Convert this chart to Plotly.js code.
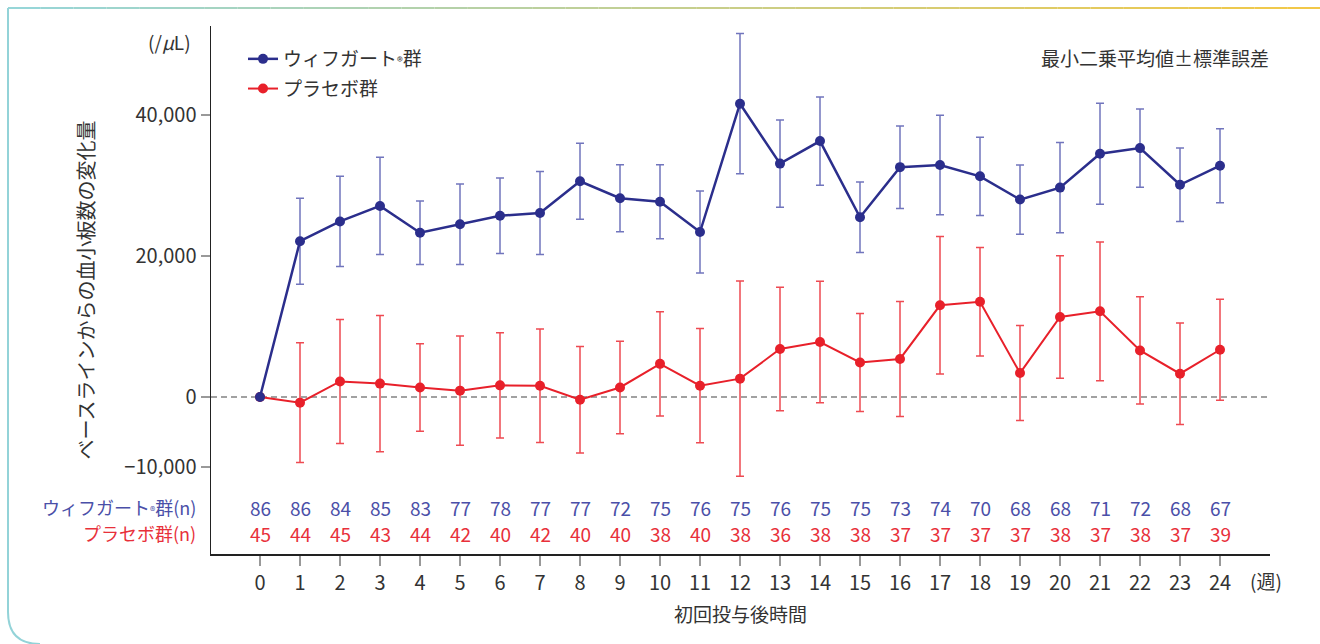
<!DOCTYPE html>
<html><head><meta charset="utf-8">
<script src="https://cdn.plot.ly/plotly-3.0.1.min.js"></script>
<style>html,body{margin:0;padding:0;background:#fff}#chart{width:1320px;height:644px}</style>
</head><body><div id="chart"></div>
<script>
// ---- data ----
const weeks = [0,1,2,3,4,5,6,7,8,9,10,11,12,13,14,15,16,17,18,19,20,21,22,23,24];
const vifMean = [0,22100,24900,27100,23300,24500,25700,26100,30600,28200,27700,23400,41600,33100,36300,25500,32600,32900,31300,28000,29700,34500,35300,30100,32800];
const vifSE   = [0,6100,6400,6900,4500,5700,5350,5900,5400,4750,5250,5800,9950,6200,6250,5000,5850,7050,5550,4900,6400,7150,5550,5200,5250];
const plaMean = [0,-800,2200,1900,1350,900,1650,1600,-400,1350,4700,1600,2600,6800,7800,4900,5400,13000,13500,3400,11350,12150,6600,3300,6700];
const plaSE   = [0,8500,8800,9650,6200,7750,7450,8050,7550,6550,7400,8100,13850,8750,8600,6950,8150,9750,7700,6750,8700,9850,7600,7200,7150];
const vifN = [86,86,84,85,83,77,78,77,77,72,75,76,75,76,75,75,73,74,70,68,68,71,72,68,67];
const plaN = [45,44,45,43,44,42,40,42,40,40,38,40,38,36,38,38,37,37,37,37,38,37,38,37,39];
const yTickVals = [-10000,0,20000,40000];
const yTickText = ['−10,000','0','20,000','40,000'];
const vifName = 'ウィフガート<span style="font-size:12px">®</span>群';
const plaName = 'プラセボ群';

// ---- geometry helpers (pixel -> paper) ----
const L=211, R=1270, T=26, B=554;
const px = p => (p-L)/(R-L);
const py = p => (B-p)/(B-T);
const FONT = '"Noto Sans CJK JP", "Noto Sans", sans-serif';
const BLUE='#2b2e8c', BLUE_ERR='#7175bd', BLUE_TXT='#4a4fa8';
const RED='#e8202a', RED_ERR='#ee4a52', RED_TXT='#e8303a';

const traces = [
  {x: weeks, y: plaMean, name: plaName, type:'scatter', mode:'lines+markers',
   line:{color:RED, width:2}, marker:{color:RED, size:10},
   error_y:{type:'data', array:plaSE, visible:true, color:RED_ERR, thickness:1.5, width:4},
   legendgroup:'p', legendrank:2},
  {x: weeks, y: vifMean, name: vifName, type:'scatter', mode:'lines+markers',
   line:{color:BLUE, width:2.5}, marker:{color:BLUE, size:10},
   error_y:{type:'data', array:vifSE, visible:true, color:BLUE_ERR, thickness:1.5, width:4},
   legendgroup:'v', legendrank:1}
];

const ann = [];
ann.push({xref:'paper', yref:'paper', x:px(193), y:py(42), xanchor:'right', yanchor:'middle', showarrow:false,
  text:'(/<i>μ</i>L)', font:{size:19, color:'#333', family:FONT}});
ann.push({xref:'paper', yref:'paper', x:px(1271), y:py(58), xanchor:'right', yanchor:'middle', showarrow:false,
  text:'最小二乗平均値±標準誤差', font:{size:19, color:'#333', family:FONT}});
ann.push({xref:'paper', yref:'paper', x:px(1266), y:py(580), xanchor:'center', yanchor:'middle', showarrow:false,
  text:'(週)', font:{size:19, color:'#333', family:FONT}});
ann.push({xref:'paper', yref:'paper', x:px(198), y:py(507), xanchor:'right', yanchor:'middle', showarrow:false,
  text:'ウィフガート<span style="font-size:11px">®</span>群(n)', font:{size:18, color:BLUE_TXT, family:FONT}});
ann.push({xref:'paper', yref:'paper', x:px(198), y:py(533), xanchor:'right', yanchor:'middle', showarrow:false,
  text:'プラセボ群(n)', font:{size:18, color:RED_TXT, family:FONT}});
weeks.forEach((w,i)=>{
  ann.push({xref:'x', yref:'paper', x:w, y:py(507), xanchor:'center', yanchor:'middle', showarrow:false,
    text:String(vifN[i]), font:{size:19, color:BLUE_TXT, family:FONT}});
  ann.push({xref:'x', yref:'paper', x:w, y:py(533), xanchor:'center', yanchor:'middle', showarrow:false,
    text:String(plaN[i]), font:{size:19, color:RED_TXT, family:FONT}});
});

const shapes = [];
shapes.push({type:'line', xref:'paper', yref:'y', x0:0, x1:1, y0:0, y1:0, layer:'below',
  line:{color:'#444', width:1.2, dash:'6px,4px'}});
// decorative frame: left edge with rounded bottom corner
shapes.push({type:'path', xref:'paper', yref:'paper', layer:'below',
  path:`M ${px(8)},${py(8)} L ${px(8)},${py(612)} Q ${px(8)},${py(644)} ${px(40)},${py(644)}`,
  line:{color:'#93d3d8', width:2}});
// top edge gradient teal -> gold
const nSeg = 40, x0p = 8, x1p = 1320;
const c0=[150,214,218], c1=[243,200,70];
for(let i=0;i<nSeg;i++){
  const t=(i+0.5)/nSeg;
  const c=c0.map((v,k)=>Math.round(v+(c1[k]-v)*t));
  shapes.push({type:'line', xref:'paper', yref:'paper', layer:'below',
    x0:px(x0p+(x1p-x0p)*i/nSeg), x1:px(x0p+(x1p-x0p)*(i+1)/nSeg), y0:py(8), y1:py(8),
    line:{color:`rgb(${c[0]},${c[1]},${c[2]})`, width:2}});
}

const layout = {
  width:1320, height:644,
  margin:{l:L, r:1320-R, t:T, b:644-B},
  paper_bgcolor:'#fff', plot_bgcolor:'rgba(0,0,0,0)',
  font:{family:FONT, color:'#333'},
  showlegend:true,
  legend:{x:px(243), y:py(40), xanchor:'left', yanchor:'top', bgcolor:'rgba(0,0,0,0)',
    font:{size:19, color:'#333', family:FONT}, tracegroupgap:2, traceorder:'grouped'},
  xaxis:{range:[-1.225,25.25], tickvals:weeks, showgrid:false, zeroline:false,
    showline:true, linecolor:'#222', linewidth:1.5, ticks:'outside', ticklen:10, tickwidth:2, tickcolor:'#999',
    tickfont:{size:20, color:'#333'}, fixedrange:true,
    title:{text:'初回投与後時間', font:{size:19, color:'#333'}, standoff:14}},
  yaxis:{range:[-22270,52620], tickvals:yTickVals, ticktext:yTickText, showgrid:false, zeroline:false,
    showline:true, linecolor:'#222', linewidth:1.5, ticks:'outside', ticklen:9, tickwidth:2, tickcolor:'#999',
    tickfont:{size:20, color:'#333'}, fixedrange:true,
    title:{text:'ベースラインからの血小板数の変化量', font:{size:20, color:'#333'}, standoff:24}},
  annotations:ann, shapes:shapes
};
Plotly.newPlot('chart', traces, layout, {displayModeBar:false, staticPlot:true});
</script>
</body></html>
